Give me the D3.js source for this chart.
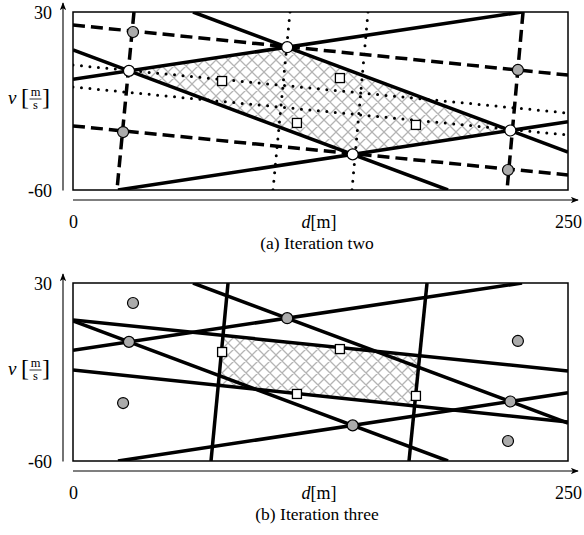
<!DOCTYPE html>
<html>
<head>
<meta charset="utf-8">
<script src="https://cdn.jsdelivr.net/npm/d3@7"></script>
<style>
body { margin: 0; background: #fff; }
svg { display: block; }
text { font-family: "Liberation Serif", "Times New Roman", serif; fill: #000; }
</style>
</head>
<body>
<div id="chart"></div>
<script>
// DATA  (d in m, v in m/s), every line given by two points [[d0,v0],[d1,v1]]
const xTicks = [0, 250]
const yTicks = [30, -60]
const captions = ["(a) Iteration two", "(b) Iteration three"]

// the four bounds kept from iteration two
const solidLines = [
  [[60.6, 30], [250, -40.8]],
  [[0, 10.8], [189.4, -60]],
  [[0, -4.0], [226.8, 30]],
  [[22.7, -60], [250, -25.5]]
]
// corner = intersection of two solid lines (index pairs)
const cornerPairs = [[1, 2], [0, 2], [0, 3], [1, 3]]

const dashedLines = [
  [[0, 23.4], [250, -1.9]],
  [[0, -27.6], [250, -52.4]],
  [[30.8, 30], [22.2, -60]],
  [[227.3, 30], [219.2, -60]]
]
const dottedLines = [
  [[0, 3.2], [250, -21.1]],
  [[0, -7.9], [250, -32.2]],
  [[109.6, 30], [101.0, -60]],
  [[149.0, 30], [140.9, -60]]
]
// new bounds of iteration three
const newLines = [
  [[78.3, 30], [69.7, -60]],
  [[0, 11.3], [250, -14.5]],
  [[178.8, 30], [169.7, -60]],
  [[0, -14.0], [250, -40.3]]
]
const newPairs = [[0, 1], [1, 2], [2, 3], [3, 0]]

const greyPoints = [[30.3, 19.9], [25.3, -30.7], [224.7, 0.7], [219.7, -49.9]]
const squarePoints = [[75.3, -4.9], [134.8, -3.4], [113.1, -26.1], [173.2, -27.1]]

// SCALES
const xScale = d3.scaleLinear().domain([0, 250]).range([73, 568])
const yScale = d3.scaleLinear().domain([-60, 30]).range([190, 12])

function intersect(a, b) {
  const [[x1, y1], [x2, y2]] = a, [[x3, y3], [x4, y4]] = b
  const den = (x1 - x2) * (y3 - y4) - (y1 - y2) * (x3 - x4)
  const t = ((x1 - x3) * (y3 - y4) - (y1 - y3) * (x3 - x4)) / den
  return [x1 + t * (x2 - x1), y1 + t * (y2 - y1)]
}
const corners = cornerPairs.map(p => intersect(solidLines[p[0]], solidLines[p[1]]))
const newCorners = newPairs.map(p => intersect(newLines[p[0]], newLines[p[1]]))

const svg = d3.select("#chart").append("svg")
    .attr("width", 584)
    .attr("height", 535)

const defs = svg.append("defs")
defs.append("marker")
    .attr("id", "arrow")
    .attr("viewBox", "0 0 10 8")
    .attr("refX", 9).attr("refY", 4)
    .attr("markerWidth", 8).attr("markerHeight", 6.4)
    .attr("markerUnits", "userSpaceOnUse")
    .attr("orient", "auto")
  .append("path")
    .attr("d", "M0,0 L10,4 L0,8 L2.5,4 Z")
    .attr("fill", "#000")

const hatch = defs.append("pattern")
    .attr("id", "hatch")
    .attr("patternUnits", "userSpaceOnUse")
    .attr("width", 12).attr("height", 12)
hatch.append("path")
    .attr("d", "M-3,-3L15,15M-3,9L3,15M9,-3L15,3M15,-3L-3,15M3,-3L-3,3M15,9L9,15")
    .attr("stroke", "#b4b4b4")
    .attr("stroke-width", 1.3)
    .attr("fill", "none")

defs.append("clipPath").attr("id", "box")
  .append("rect")
    .attr("x", xScale(0)).attr("y", yScale(30))
    .attr("width", xScale(250) - xScale(0))
    .attr("height", yScale(-60) - yScale(30))

const line = d3.line().x(d => xScale(d[0])).y(d => yScale(d[1]))

function drawPanel(offset, caption, iter) {
  const g = svg.append("g").attr("transform", `translate(0, ${offset})`)
  const plot = g.append("g").attr("clip-path", "url(#box)")

  // hatched feasible area
  plot.append("path")
      .datum(iter == 2 ? corners : newCorners)
      .attr("d", d => line(d) + "Z")
      .attr("fill", "url(#hatch)")

  if (iter == 2) {
    plot.selectAll(".dotted")
      .data(dottedLines)
      .join("path")
        .attr("d", line)
        .attr("fill", "none")
        .attr("stroke", "#000")
        .attr("stroke-width", 3)
        .attr("stroke-linecap", "round")
        .attr("stroke-dasharray", "0,8.5")

    plot.selectAll(".dashed")
      .data(dashedLines)
      .join("path")
        .attr("d", line)
        .attr("fill", "none")
        .attr("stroke", "#000")
        .attr("stroke-width", 3.5)
        .attr("stroke-dasharray", "12,6")
  }

  plot.selectAll(".solid")
    .data(iter == 2 ? solidLines : solidLines.concat(newLines))
    .join("path")
      .attr("d", line)
      .attr("fill", "none")
      .attr("stroke", "#000")
      .attr("stroke-width", 3.5)

  // box
  g.append("rect")
      .attr("x", xScale(0)).attr("y", yScale(30))
      .attr("width", xScale(250) - xScale(0))
      .attr("height", yScale(-60) - yScale(30))
      .attr("fill", "none")
      .attr("stroke", "#000")
      .attr("stroke-width", 1.5)

  // grey points
  g.selectAll(".grey")
    .data(iter == 2 ? greyPoints : greyPoints.concat(corners))
    .join("circle")
      .attr("cx", d => xScale(d[0]))
      .attr("cy", d => yScale(d[1]))
      .attr("r", 5.5)
      .attr("fill", "#ababab")
      .attr("stroke", "#000")
      .attr("stroke-width", 1.2)

  if (iter == 2) {
    g.selectAll(".white")
      .data(corners)
      .join("circle")
        .attr("cx", d => xScale(d[0]))
        .attr("cy", d => yScale(d[1]))
        .attr("r", 5.5)
        .attr("fill", "#fff")
        .attr("stroke", "#000")
        .attr("stroke-width", 1.2)
  }

  g.selectAll(".square")
    .data(squarePoints)
    .join("rect")
      .attr("x", d => xScale(d[0]) - 4.5)
      .attr("y", d => yScale(d[1]) - 4.5)
      .attr("width", 9).attr("height", 9)
      .attr("fill", "#fff")
      .attr("stroke", "#000")
      .attr("stroke-width", 1.3)

  // AXES
  g.append("line")
      .attr("x1", 63).attr("x2", 63)
      .attr("y1", yScale(-60) + 0.5).attr("y2", 3)
      .attr("stroke", "#000").attr("stroke-width", 1.1)
      .attr("marker-end", "url(#arrow)")
  g.append("line")
      .attr("x1", xScale(0)).attr("x2", 578)
      .attr("y1", 200).attr("y2", 200)
      .attr("stroke", "#000").attr("stroke-width", 1.1)
      .attr("marker-end", "url(#arrow)")

  const yAxis = g.append("g")
      .attr("transform", "translate(63,0)")
      .call(d3.axisLeft(yScale).tickValues(yTicks).tickSize(0).tickPadding(11)
        .tickFormat(d => d < 0 ? "-" + Math.abs(d) : d))
  yAxis.select(".domain").remove()
  yAxis.selectAll("text")
      .attr("font-size", 18)
      .attr("dy", "0.35em")

  const xAxis = g.append("g")
      .attr("transform", "translate(0,200)")
      .call(d3.axisBottom(xScale).tickValues(xTicks).tickSize(0).tickPadding(15))
  xAxis.select(".domain").remove()
  xAxis.selectAll("text")
      .attr("font-size", 18)

  // axis titles
  const xl = g.append("text")
      .attr("x", 319).attr("y", 228)
      .attr("text-anchor", "middle")
      .attr("font-size", 18)
  xl.append("tspan").attr("font-style", "italic").text("d")
  xl.append("tspan").text("[m]")

  const yl = g.append("g")
  yl.append("text").attr("x", 8).attr("y", 104)
      .attr("font-size", 19).attr("font-style", "italic").text("v")
  yl.append("text").attr("x", 21).attr("y", 105)
      .attr("font-size", 24).text("[")
  yl.append("text").attr("x", 35.5).attr("y", 96)
      .attr("font-size", 12.5).attr("text-anchor", "middle").text("m")
  yl.append("line").attr("x1", 29.5).attr("x2", 41.5).attr("y1", 99).attr("y2", 99)
      .attr("stroke", "#000").attr("stroke-width", 0.8)
  yl.append("text").attr("x", 35.5).attr("y", 109)
      .attr("font-size", 12.5).attr("text-anchor", "middle").text("s")
  yl.append("text").attr("x", 42).attr("y", 105)
      .attr("font-size", 24).text("]")

  g.append("text")
      .attr("x", 317).attr("y", 249)
      .attr("text-anchor", "middle")
      .attr("font-size", 17.5)
      .text(caption)
}

drawPanel(0, captions[0], 2)
drawPanel(271, captions[1], 3)
</script>
</body>
</html>
